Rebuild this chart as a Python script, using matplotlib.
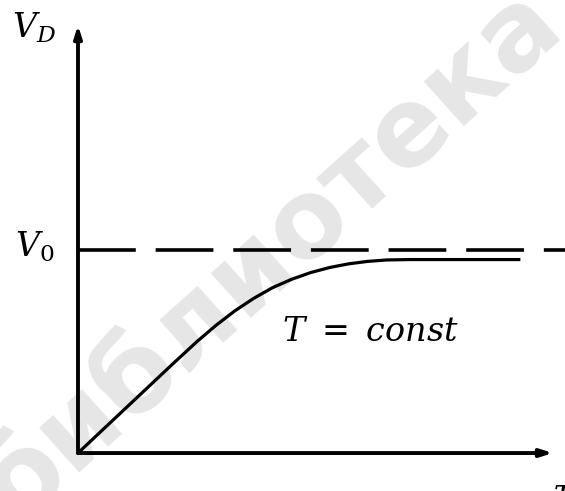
import numpy as np
import matplotlib.pyplot as plt

plt.rcParams['mathtext.fontset'] = 'dejavuserif'

# heating curve: V_D against time, in units of V0
tau = [0.0, 1.0, 2.0, 2.5, 2.9, 3.3, 3.7, 4.1, 4.5, 4.9, 5.3, 5.7, 6.1,
       6.5, 7.0, 8.0, 9.28]
v_d = [0.0, 0.22, 0.44, 0.548, 0.628, 0.700, 0.762, 0.815, 0.856, 0.889,
       0.914, 0.932, 0.944, 0.951, 0.953, 0.953, 0.953]
v0 = 1.0

fig = plt.figure(figsize=(5.65, 4.91), dpi=100)
ax = fig.add_axes([0, 0, 1, 1])
ax.set_xlim(-1.642, 10.253)
ax.set_ylim(-0.187, 2.2315)
ax.axis('off')

# faint library stamp behind the drawing
ax.text(0.48, 0.48, 'библиотека', transform=ax.transAxes, rotation=42,
        ha='center', va='center', fontsize=78, fontweight='bold',
        color='#e6e6e6', zorder=-5)

# axes with arrows
arrow = dict(arrowstyle='-|>,head_length=0.7,head_width=0.22', lw=2.8,
             color='black', shrinkA=0, shrinkB=0)
ax.annotate('', xy=(0, 2.108), xytext=(0, 0), arrowprops=arrow, zorder=3)
ax.annotate('', xy=(10.0, 0), xytext=(0, 0), arrowprops=arrow, zorder=3)

# steady-state level
ax.plot([0, 10.253], [v0, v0], color='black', lw=2.6, dashes=(16, 5.5),
        dash_capstyle='butt', clip_on=False, zorder=2)

ax.plot(tau, v_d, color='black', lw=2.3, zorder=2)

ax.text(-1.389, 2.044, r'$V_D$', fontsize=24, ha='left', va='baseline')
ax.text(-1.326, 0.970, r'$V_0$', fontsize=24, ha='left', va='baseline')
ax.text(4.295, 0.552, r'$T\ =\ const$', fontsize=24, ha='left',
        va='baseline')
ax.text(9.979, -0.118, r'$\tau$', fontsize=24, ha='left', va='top')

fig.savefig('out.png', dpi=100)
